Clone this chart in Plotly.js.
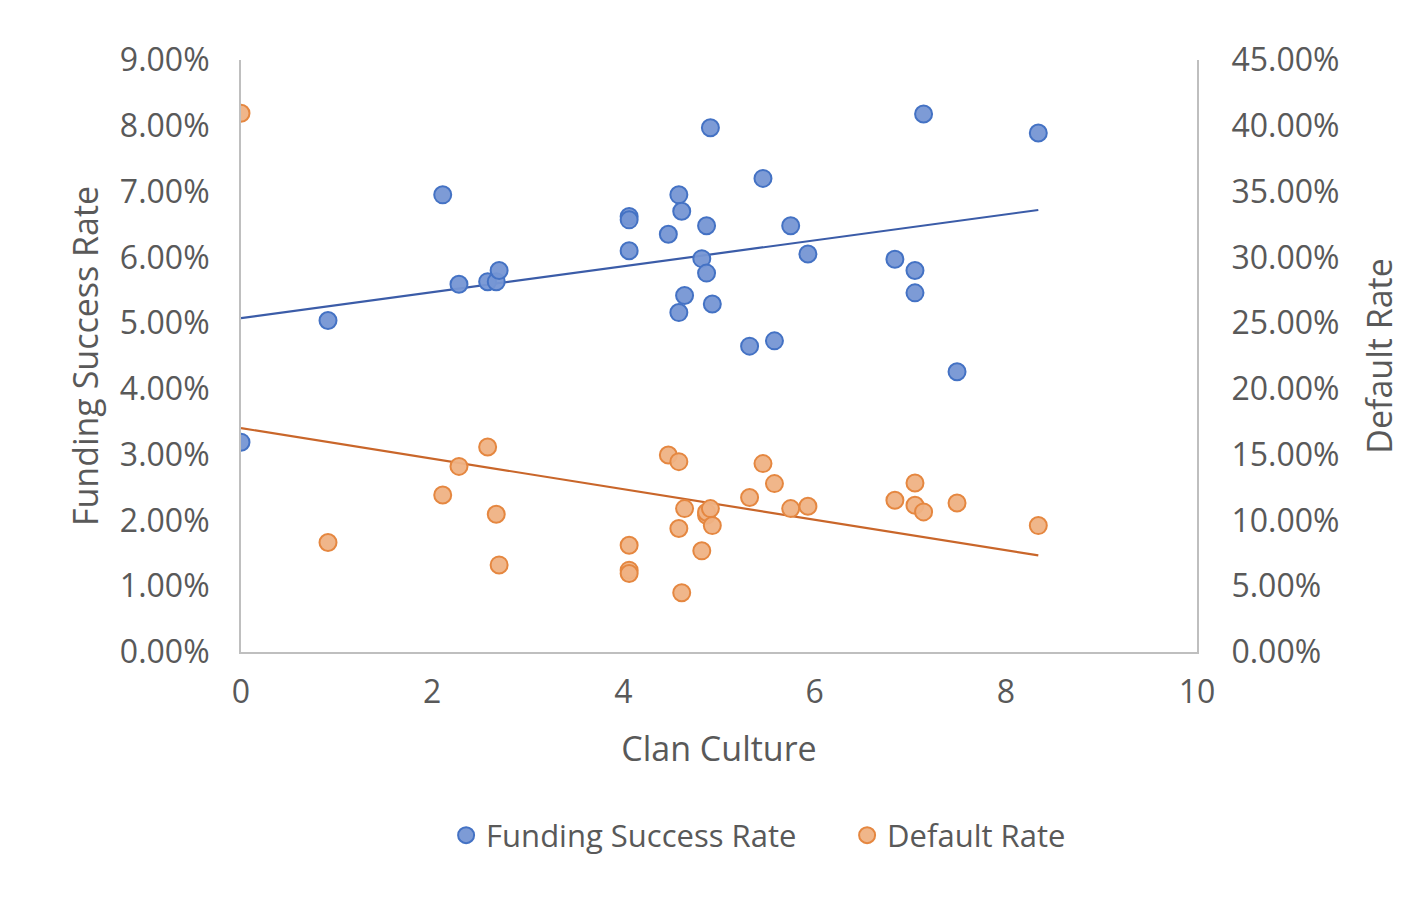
<!DOCTYPE html>
<html>
<head>
<meta charset="utf-8">
<script src="https://cdn.plot.ly/plotly-3.0.1.min.js"></script>
<style>html,body{margin:0;padding:0;background:#fff;}#chart{width:1403px;height:899px;}</style>
</head>
<body>
<div id="chart"></div>
<script>
// Clan Culture score (x) for each observation
const clanCulture = [0, 0.91, 2.11, 2.28, 2.58, 2.67, 2.70, 4.06, 4.06, 4.06, 4.47, 4.58, 4.58, 4.61, 4.64, 4.82, 4.87, 4.87, 4.91, 4.93, 5.32, 5.46, 5.58, 5.75, 5.93, 6.84, 7.05, 7.05, 7.14, 7.49, 8.34];
// Funding Success Rate (left axis, fraction)
const fundingRate = [0.0319, 0.0504, 0.0695, 0.0559, 0.0563, 0.0563, 0.0580, 0.0662, 0.0657, 0.0610, 0.0635, 0.0695, 0.0516, 0.0670, 0.0542, 0.0598, 0.0648, 0.0576, 0.0797, 0.0529, 0.0465, 0.0720, 0.0473, 0.0648, 0.0605, 0.0597, 0.0580, 0.0546, 0.0818, 0.0426, 0.0789];
// Default Rate (right axis, fraction)
const defaultRate = [0.4095, 0.0832, 0.1193, 0.1411, 0.1558, 0.1047, 0.0662, 0.0812, 0.0622, 0.0597, 0.1497, 0.1447, 0.0939, 0.0450, 0.1090, 0.0769, 0.1039, 0.1062, 0.1090, 0.0961, 0.1174, 0.1432, 0.1280, 0.1090, 0.1108, 0.1153, 0.1285, 0.1115, 0.1065, 0.1133, 0.0961];

const seriesNames = ['Funding Success Rate', 'Default Rate'];
const leftTicks = [0, 0.01, 0.02, 0.03, 0.04, 0.05, 0.06, 0.07, 0.08, 0.09];
const rightTicks = [0, 0.05, 0.10, 0.15, 0.20, 0.25, 0.30, 0.35, 0.40, 0.45];
const xTicks = [0, 2, 4, 6, 8, 10];

function linReg(xs, ys) {
  const n = xs.length;
  let sx = 0, sy = 0, sxx = 0, sxy = 0;
  for (let i = 0; i < n; i++) { sx += xs[i]; sy += ys[i]; sxx += xs[i]*xs[i]; sxy += xs[i]*ys[i]; }
  const b = (n*sxy - sx*sy) / (n*sxx - sx*sx);
  const a = (sy - b*sx) / n;
  const xmin = Math.min(...xs), xmax = Math.max(...xs);
  return { x: [xmin, xmax], y: [a + b*xmin, a + b*xmax] };
}
const fTrend = linReg(clanCulture, fundingRate);
const dTrend = linReg(clanCulture, defaultRate);

const blue = '#4472C4';
const txt = '#595959';
const font = 'Open Sans, DejaVu Sans, sans-serif';

const traces = [
  { x: fTrend.x, y: fTrend.y, mode: 'lines', line: { color: '#3B5CA8', width: 2.2 }, showlegend: false, hoverinfo: 'skip', yaxis: 'y' },
  { x: dTrend.x, y: dTrend.y, mode: 'lines', line: { color: '#C9662A', width: 2.2 }, showlegend: false, hoverinfo: 'skip', yaxis: 'y2' },
  { x: clanCulture, y: fundingRate, name: seriesNames[0], mode: 'markers', yaxis: 'y',
    marker: { size: 17, color: 'rgba(118,150,212,0.95)', line: { color: blue, width: 2 } } },
  { x: clanCulture, y: defaultRate, name: seriesNames[1], mode: 'markers', yaxis: 'y2',
    marker: { size: 17, color: 'rgba(239,178,132,0.95)', line: { color: '#E58740', width: 2 } } }
];

const layout = {
  width: 1403, height: 899,
  margin: { l: 241, r: 206, t: 60, b: 247 },
  paper_bgcolor: '#fff', plot_bgcolor: '#fff',
  font: { family: font, size: 32, color: txt },
  showlegend: true,
  legend: { orientation: 'h', x: 0.634, xanchor: 'center', y: -0.31, yanchor: 'middle',
            font: { size: 31, color: txt }, entrywidth: 356, entrywidthmode: 'pixels' },
  xaxis: {
    range: [0, 10], tickvals: xTicks, ticktext: xTicks.map(String),
    showgrid: false, zeroline: false, showline: true, linecolor: '#BFBFBF', linewidth: 2,
    ticks: '', ticklabelstandoff: 11, tickfont: { size: 32, color: txt },
    title: { text: 'Clan Culture', font: { size: 34, color: txt }, standoff: 26 }
  },
  yaxis: {
    range: [0, 0.09], tickvals: leftTicks, tickformat: '.2%',
    showgrid: false, zeroline: false, showline: true, linecolor: '#BFBFBF', linewidth: 2,
    ticks: '', ticklabelstandoff: 23, tickfont: { size: 32, color: txt },
    title: { text: 'Funding Success Rate', font: { size: 34, color: txt }, standoff: 11 }
  },
  yaxis2: {
    range: [0, 0.45], tickvals: rightTicks, tickformat: '.2%', overlaying: 'y', side: 'right',
    showgrid: false, zeroline: false, showline: true, linecolor: '#BFBFBF', linewidth: 2,
    ticks: '', ticklabelstandoff: 26, tickfont: { size: 32, color: txt },
    title: { text: 'Default Rate', font: { size: 34, color: txt }, standoff: 30 }
  }
};

Plotly.newPlot('chart', traces, layout, { displayModeBar: false, staticPlot: true });
</script>
</body>
</html>
